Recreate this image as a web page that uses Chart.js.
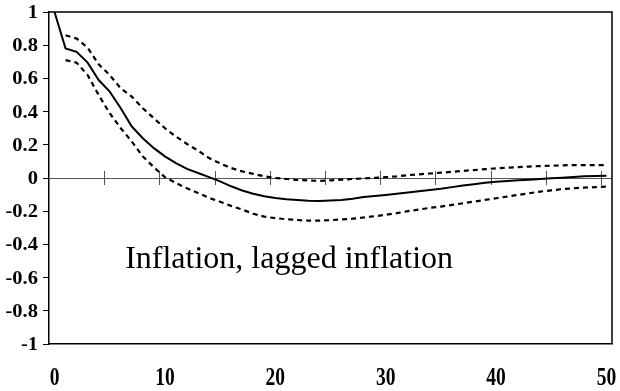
<!DOCTYPE html>
<html>
<head>
<meta charset="utf-8">
<script src="https://cdn.jsdelivr.net/npm/chart.js@4.4.1/dist/chart.umd.min.js"></script>
<style>
  html, body { margin: 0; padding: 0; background: #fff; }
  #wrap { width: 620px; height: 391px; }
</style>
</head>
<body>
<div id="wrap"><canvas id="c" width="620" height="391"></canvas></div>
<script>
// ---- Data ----
const lags = [0,1,2,3,4,5,6,7,8,9,10,11,12,13,14,15,16,17,18,19,20,21,22,23,24,25,26,27,28,29,30,31,32,33,34,35,36,37,38,39,40,41,42,43,44,45,46,47,48,49,50];
const response = [1.0,0.78,0.76,0.695,0.59,0.52,0.42,0.31,0.24,0.18,0.13,0.09,0.055,0.03,0.005,-0.02,-0.05,-0.075,-0.095,-0.11,-0.12,-0.128,-0.133,-0.137,-0.138,-0.136,-0.133,-0.125,-0.115,-0.108,-0.102,-0.095,-0.088,-0.08,-0.072,-0.065,-0.055,-0.045,-0.037,-0.028,-0.022,-0.018,-0.014,-0.01,-0.006,-0.002,0.002,0.006,0.01,0.012,0.014];
const upperBand = [null,0.86,0.84,0.785,0.685,0.62,0.54,0.49,0.42,0.36,0.30,0.25,0.205,0.165,0.12,0.088,0.06,0.04,0.025,0.01,0.0,-0.006,-0.012,-0.015,-0.017,-0.014,-0.01,-0.006,-0.002,0.001,0.005,0.01,0.017,0.022,0.027,0.032,0.037,0.043,0.048,0.053,0.058,0.062,0.066,0.069,0.072,0.074,0.076,0.078,0.078,0.078,0.078];
const lowerBand = [null,0.71,0.695,0.62,0.50,0.39,0.30,0.22,0.13,0.065,0.005,-0.03,-0.062,-0.09,-0.12,-0.143,-0.168,-0.19,-0.215,-0.233,-0.242,-0.248,-0.253,-0.257,-0.257,-0.254,-0.25,-0.245,-0.238,-0.23,-0.222,-0.212,-0.2,-0.19,-0.18,-0.172,-0.162,-0.152,-0.142,-0.132,-0.122,-0.112,-0.102,-0.092,-0.082,-0.074,-0.067,-0.062,-0.058,-0.055,-0.052];
const xTickLabels = [0,10,20,30,40,50];
const yTickLabels = [1,0.8,0.6,0.4,0.2,0,-0.2,-0.4,-0.6,-0.8,-1];
const annotationText = "Inflation, lagged inflation";

const toPoints = arr => lags.map((l, i) => ({x: l, y: arr[i]}));
const SERIF = '"Liberation Serif", "Times New Roman", serif';

// ---- Plugins ----
const framePlugin = {
  id: 'frame',
  beforeDatasetsDraw(chart) {
    const {ctx, chartArea: a, scales: {x, y}} = chart;
    const y0 = y.getPixelForValue(0);
    ctx.save();
    ctx.strokeStyle = '#555';
    ctx.lineWidth = 1;
    ctx.beginPath();
    ctx.moveTo(a.left, Math.round(y0) + 0.5);
    ctx.lineTo(a.right, Math.round(y0) + 0.5);
    ctx.stroke();
    for (let k = 5; k <= lags[lags.length - 1]; k += 5) {
      const px = Math.round(x.getPixelForValue(k - 0.5)) + 0.5;
      ctx.beginPath();
      ctx.moveTo(px, y0 - 7);
      ctx.lineTo(px, y0 + 7);
      ctx.stroke();
    }
    ctx.restore();
  },
  afterDraw(chart) {
    const {ctx, chartArea: a, scales: {x, y}} = chart;
    ctx.save();
    ctx.strokeStyle = '#000';
    ctx.lineWidth = 1.5;
    ctx.beginPath();
    ctx.moveTo(a.left, a.top);
    ctx.lineTo(a.right, a.top);
    ctx.lineTo(a.right, a.bottom);
    ctx.stroke();
    ctx.fillStyle = '#000';
    // x labels (tall, condensed bold serif)
    ctx.font = 'bold 25px ' + SERIF;
    ctx.textAlign = 'center';
    ctx.textBaseline = 'alphabetic';
    xTickLabels.forEach(v => {
      ctx.save();
      ctx.translate(x.getPixelForValue(v), 385);
      ctx.scale(0.78, 1);
      ctx.fillText(String(v), 0, 0);
      ctx.restore();
    });
    // y labels (wide bold serif)
    ctx.font = 'bold 18px ' + SERIF;
    ctx.textAlign = 'right';
    ctx.textBaseline = 'alphabetic';
    yTickLabels.forEach(v => {
      ctx.save();
      ctx.translate(38, y.getPixelForValue(v) + 6);
      ctx.scale(1.14, 1);
      ctx.fillText(String(v), 0, 0);
      ctx.restore();
    });
    // annotation
    ctx.font = '32px ' + SERIF;
    ctx.textAlign = 'left';
    ctx.fillText(annotationText, x.getPixelForValue(6.4), y.getPixelForValue(-0.54));
    ctx.restore();
  }
};

new Chart(document.getElementById('c'), {
  type: 'line',
  data: {
    datasets: [
      { label: 'response', data: toPoints(response), borderColor: '#000', borderWidth: 2, pointRadius: 0, tension: 0, fill: false },
      { label: 'upper', data: toPoints(upperBand), borderColor: '#000', borderWidth: 2.2, borderDash: [5, 4], pointRadius: 0, tension: 0, fill: false, spanGaps: false },
      { label: 'lower', data: toPoints(lowerBand), borderColor: '#000', borderWidth: 2.2, borderDash: [5, 4], pointRadius: 0, tension: 0, fill: false, spanGaps: false }
    ]
  },
  options: {
    responsive: false,
    animation: false,
    events: [],
    layout: { padding: { left: 0, top: 12, right: 8, bottom: 0 } },
    plugins: { legend: { display: false }, tooltip: { enabled: false } },
    scales: {
      x: {
        type: 'linear',
        min: -0.5,
        max: 50.5,
        afterBuildTicks: s => { s.ticks = xTickLabels.map(v => ({value: v})); },
        afterFit: s => { s.height = 47; },
        ticks: { display: false },
        grid: { display: true, drawOnChartArea: false, drawTicks: false },
        border: { display: true, color: '#000', width: 1.5 }
      },
      y: {
        min: -1,
        max: 1,
        afterBuildTicks: s => { s.ticks = yTickLabels.map(v => ({value: v})); },
        afterFit: s => { s.width = 49; },
        ticks: { display: false },
        grid: { drawOnChartArea: false, drawTicks: true, tickLength: 6, color: '#000', tickWidth: 1 },
        border: { display: true, color: '#000', width: 1.5 }
      }
    }
  },
  plugins: [framePlugin]
});
</script>
</body>
</html>
